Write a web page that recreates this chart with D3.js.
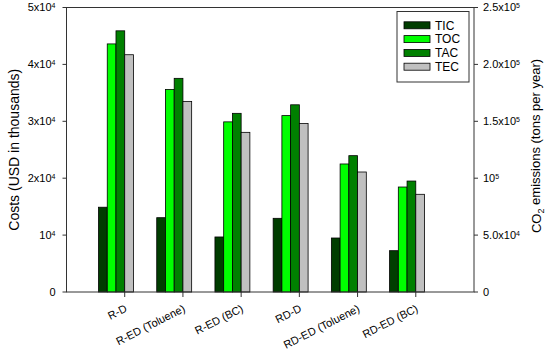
<!DOCTYPE html>
<html>
<head>
<meta charset="utf-8">
<script src="https://cdn.jsdelivr.net/npm/d3@7"></script>
<style>
  body { margin: 0; background: #fff; }
  text { font-family: Arial, "Liberation Sans", sans-serif; fill: #000; }
</style>
</head>
<body>
<div id="chart"></div>
<script>
  const categories = ['R-D', 'R-ED (Toluene)', 'R-ED (BC)', 'RD-D', 'RD-ED (Toluene)', 'RD-ED (BC)'];
  const seriesNames = ['TIC', 'TOC', 'TAC', 'TEC'];
  const tic = [14900, 13060, 9670, 12950, 9490, 7260];
  const toc = [43600, 35600, 29900, 31000, 22500, 18450];
  const tac = [45900, 37550, 31400, 32900, 23960, 19500];
  const tec = [41700, 33500, 28060, 29600, 21090, 17170];
  const colors = ['#003d00', '#00ff00', '#008000', '#c0c0c0'];

  const leftTicks = [
    { v: 0, base: '0', exp: null },
    { v: 1e4, base: '10', exp: '4' },
    { v: 2e4, base: '2x10', exp: '4' },
    { v: 3e4, base: '3x10', exp: '4' },
    { v: 4e4, base: '4x10', exp: '4' },
    { v: 5e4, base: '5x10', exp: '4' }
  ];
  const rightTicks = [
    { v: 0, base: '0', exp: null },
    { v: 5e4, base: '5.0x10', exp: '4' },
    { v: 1e5, base: '10', exp: '5' },
    { v: 1.5e5, base: '1.5x10', exp: '5' },
    { v: 2e5, base: '2.0x10', exp: '5' },
    { v: 2.5e5, base: '2.5x10', exp: '5' }
  ];

  const w = 550, h = 350;
  const plotLeft = 66.5, plotRight = 474, plotTop = 7.5, plotBottom = 292;

  const series = [tic, toc, tac, tec];

  const x = d3.scaleLinear().domain([0, 7]).range([plotLeft, plotRight]);
  const y = d3.scaleLinear().domain([0, 5e4]).range([plotBottom, plotTop]);
  const y2 = d3.scaleLinear().domain([0, 2.5e5]).range([plotBottom, plotTop]);

  const barW = 0.15;
  const offsets = [-0.45, -0.3, -0.15, 0];

  const svg = d3.select('#chart').append('svg')
    .attr('width', w)
    .attr('height', h);

  // bars
  const groups = svg.append('g').selectAll('g')
    .data(categories)
    .enter().append('g');

  groups.selectAll('rect')
    .data((c, i) => series.map((s, k) => ({ v: s[i], k: k, i: i })))
    .enter().append('rect')
      .attr('x', d => x(d.i + 1 + offsets[d.k]))
      .attr('y', d => y(d.v))
      .attr('width', d => x(barW) - x(0))
      .attr('height', d => y(0) - y(d.v))
      .style('fill', d => colors[d.k])
      .style('stroke', '#000')
      .style('stroke-width', '0.8px');

  // frame
  svg.append('rect')
    .attr('x', plotLeft).attr('y', plotTop)
    .attr('width', plotRight - plotLeft).attr('height', plotBottom - plotTop)
    .style('fill', 'none')
    .style('stroke', '#333')
    .style('stroke-width', '1px');

  function supLabel(sel, t) {
    sel.append('tspan').text(t.base);
    if (t.exp) {
      sel.append('tspan').attr('dy', '-0.45em').style('font-size', '7px').text(t.exp);
    }
  }

  // left axis
  const lt = svg.append('g').selectAll('g').data(leftTicks).enter().append('g')
    .attr('transform', d => 'translate(' + plotLeft + ',' + y(d.v) + ')');
  lt.append('line').attr('x1', -4).attr('x2', 0).style('stroke', '#333');
  lt.append('text')
    .attr('x', -11).attr('dy', '0.35em')
    .style('font-size', '11px')
    .style('text-anchor', 'end')
    .each(function(d) { supLabel(d3.select(this), d); });

  // right axis
  const rt = svg.append('g').selectAll('g').data(rightTicks).enter().append('g')
    .attr('transform', d => 'translate(' + plotRight + ',' + y2(d.v) + ')');
  rt.append('line').attr('x1', 0).attr('x2', 4).style('stroke', '#333');
  rt.append('text')
    .attr('x', 9).attr('dy', '0.35em')
    .style('font-size', '11px')
    .style('text-anchor', 'start')
    .each(function(d) { supLabel(d3.select(this), d); });

  // bottom axis
  const bt = svg.append('g').selectAll('g').data(categories).enter().append('g')
    .attr('transform', (d, i) => 'translate(' + x(i + 1) + ',' + plotBottom + ')');
  bt.append('line').attr('y1', 0).attr('y2', 5).style('stroke', '#333');
  bt.append('text')
    .attr('transform', 'translate(3,19) rotate(-27)')
    .style('font-size', '11px')
    .style('text-anchor', 'end')
    .text(d => d);

  // axis titles
  svg.append('text')
    .attr('transform', 'translate(19,' + ((plotTop + plotBottom) / 2) + ') rotate(-90)')
    .style('font-size', '14px')
    .style('text-anchor', 'middle')
    .text('Costs (USD in thousands)');

  const rtitle = svg.append('text')
    .attr('transform', 'translate(541,146) rotate(-90)')
    .style('font-size', '13px')
    .style('text-anchor', 'middle');
  rtitle.append('tspan').text('CO');
  rtitle.append('tspan').attr('dy', '0.35em').style('font-size', '9px').text('2');
  rtitle.append('tspan').attr('dy', '-0.35em').text(' emissions (tons per year)');

  // legend
  const legend = svg.append('g').attr('transform', 'translate(397,11.5)');
  legend.append('rect')
    .attr('width', 72).attr('height', 70.5)
    .style('fill', '#fff').style('stroke', '#333').style('stroke-width', '1px');
  const items = legend.selectAll('g.item').data(seriesNames).enter().append('g')
    .attr('transform', (d, i) => 'translate(7,' + (13.8 + i * 13.8) + ')');
  items.append('rect')
    .attr('x', 0).attr('y', -3.5).attr('width', 26).attr('height', 7)
    .style('fill', (d, i) => colors[i]).style('stroke', '#000').style('stroke-width', '0.8px');
  items.append('text')
    .attr('x', 31).attr('dy', '0.35em')
    .style('font-size', '12px')
    .text(d => d);
</script>
</body>
</html>
